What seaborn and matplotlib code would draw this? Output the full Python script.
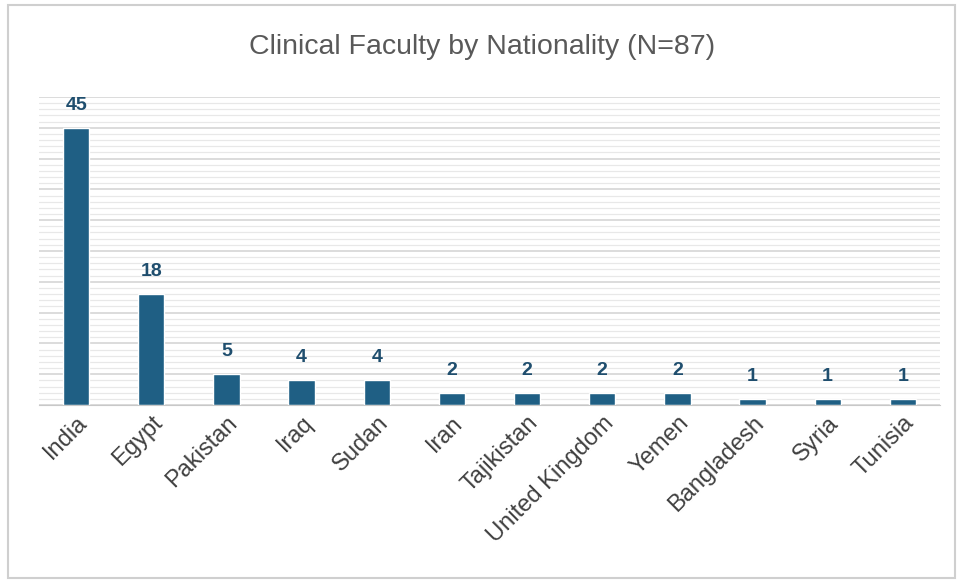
import seaborn as sns
import matplotlib
matplotlib.use("Agg")
import matplotlib.pyplot as plt
from matplotlib.patches import Rectangle
from matplotlib.ticker import MultipleLocator
import pandas as pd

countries = ['India', 'Egypt', 'Pakistan', 'Iraq', 'Sudan', 'Iran', 'Tajikistan',
             'United Kingdom', 'Yemen', 'Bangladesh', 'Syria', 'Tunisia']
counts = [45, 18, 5, 4, 4, 2, 2, 2, 2, 1, 1, 1]
title = 'Clinical Faculty by Nationality (N=87)'

df = pd.DataFrame({'country': countries, 'count': counts})

sns.set_style('white')
plt.rcParams['font.family'] = ['Liberation Sans', 'DejaVu Sans']

fig = plt.figure(figsize=(9.64, 5.84), dpi=100)
ax = fig.add_axes([0.040, 0.3065, 0.9355, 0.5275])
sns.barplot(data=df, x='country', y='count', color='#1F5F84', saturation=1,
            width=0.35, ax=ax)

ax.set_ylim(0, 50)
ax.set_xlim(-0.5, len(countries) - 0.5)
ax.yaxis.set_major_locator(MultipleLocator(5))
ax.yaxis.set_minor_locator(MultipleLocator(1))
ax.grid(axis='y', which='major', color='#d6d6d6', lw=1.2)
ax.grid(axis='y', which='minor', color='#e8e8e8', lw=0.9)
ax.set_axisbelow(True)
ax.set_yticklabels([])
ax.tick_params(axis='y', length=0, which='both')
ax.tick_params(axis='x', length=0, pad=5)
for s in ['top', 'right', 'left']:
    ax.spines[s].set_visible(False)
ax.spines['bottom'].set_color('#c8c8c8')
ax.set_xlabel('')
ax.set_ylabel('')
plt.setp(ax.get_xticklabels(), rotation=45, ha='right', rotation_mode='anchor',
         fontsize=17, color='#404040')

for i, v in enumerate(counts):
    ax.annotate(str(v), (i, v), xytext=(0, 10), textcoords='offset points',
                ha='center', va='bottom', fontsize=14, fontweight='bold',
                color='#1F4E6E')

fig.text(0.5, 0.92, title, ha='center', va='center', fontsize=20.5, color='#595959')
fig.patches.append(Rectangle((0.008, 0.01), 0.983, 0.982, transform=fig.transFigure,
                             fill=False, edgecolor='#cfcfcf', lw=1.5))

plt.savefig('out.png', dpi=100)
plt.close()
